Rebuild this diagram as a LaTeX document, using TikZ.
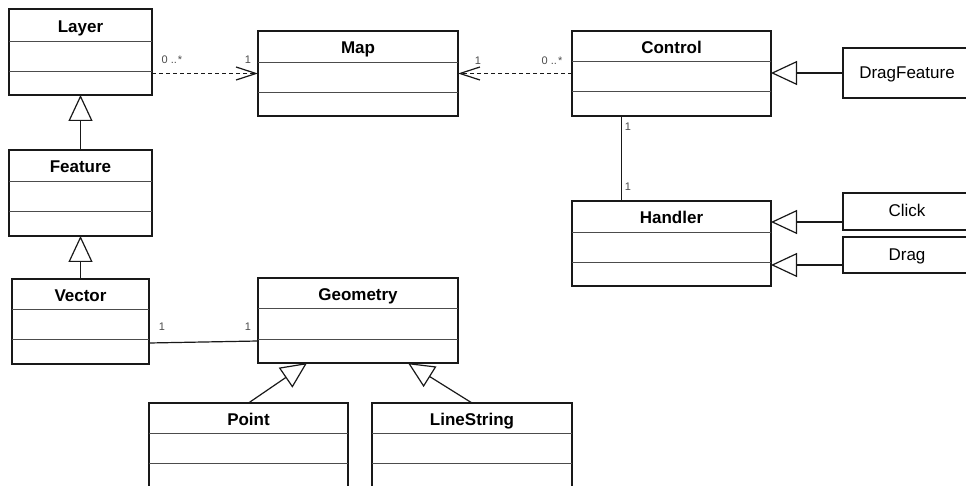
\documentclass[tikz,border=0pt]{standalone}
\usepackage{fontspec}
\setmainfont{Liberation Sans}
\usetikzlibrary{arrows.meta,calc}
\tikzset{
  boxline/.style={draw=black!90, line width=1.2pt},
  classbox/.style={boxline, rectangle, outer sep=0pt, inner sep=0pt, fill=white},
  divider/.style={draw=black!70, line width=0.9pt},
  titletext/.style={font=\bfseries\fontsize{17}{19}\selectfont, inner sep=0pt, text height=12.2pt, text depth=0pt},
  plaintext/.style={font=\fontsize{17}{19}\selectfont, inner sep=0pt, text height=12.2pt, text depth=0pt},
  multlabel/.style={font=\fontsize{11}{13}\selectfont, text=black!70, inner sep=0pt, text height=7.9pt, text depth=0pt},
  conn/.style={draw=black!90, line width=1.2pt},
  dep/.style={conn, dash pattern=on 4pt off 3pt, -{Straight Barb[length=20pt,width=13pt,line width=1.2pt]}},
  gen/.style={conn, -{Triangle[open,length=26pt,width=24pt,fill=white,line width=1.2pt]}}
}
% \umlcls{name}{x1}{y1}{x2}{y2}{d1}{d2}{title}
\newcommand{\umlcls}[8]{%
  \node[classbox, minimum width={(#4-#2)*1pt}, minimum height={(#5-#3)*1pt}, anchor=north west] (#1) at (#2,#3) {};
  \draw[divider] (#2,#6) -- (#4,#6);
  \draw[divider] (#2,#7) -- (#4,#7);
  \node[titletext] (#1-title) at ({(#2+#4)/2},{(#3+#6)/2+1}) {#8};
}
% \simplecls{name}{x1}{y1}{x2}{y2}{text}
\newcommand{\simplecls}[6]{%
  \node[classbox, minimum width={(#4-#2)*1pt}, minimum height={(#5-#3)*1pt}, anchor=north west] (#1) at (#2,#3) {};
  \node[plaintext] (#1-title) at ({(#2+#4)/2},{(#3+#5)/2-1}) {#6};
}
\begin{document}
\begin{tikzpicture}[x=1pt,y=-1pt]
\useasboundingbox (0,0) rectangle (966,486);
\fill[white] (0,0) rectangle (966,486);
\clip (0,0) rectangle (966,486);

\umlcls{Layer}{9}{9}{152}{95}{41}{71}{Layer}
\umlcls{Map}{258}{31}{458}{116}{62}{92}{Map}
\umlcls{Control}{572}{31}{771}{116}{61}{91}{Control}
\umlcls{Feature}{9}{150}{152}{236}{181}{211}{Feature}
\umlcls{Handler}{572}{201}{771}{286}{232}{262}{Handler}
\umlcls{Vector}{12}{279}{149}{364}{309}{339}{Vector}
\umlcls{Geometry}{258}{278}{458}{363}{308}{339}{Geometry}
\umlcls{Point}{149}{403}{348}{489}{433}{463}{Point}
\umlcls{LineString}{372}{403}{572}{489}{433}{463}{LineString}

\simplecls{DragFeature}{843}{48}{971}{98}{DragFeature}
\simplecls{Click}{843}{193}{971}{230}{Click}
\simplecls{Drag}{843}{237}{971}{273}{Drag}

% dependencies
\draw[dep] (Layer.east |- Map.west) -- (Map.west);
\draw[dep] (Control.west) -- (Map.east);

% generalizations
\draw[gen] (Feature.north) -- (Layer.south);
\draw[gen] (Vector.north) -- (Feature.south);
\draw[gen] (DragFeature.west) -- (DragFeature.west -| Control.east);
\draw[gen] ([yshift=-10.5pt]Click.west) -- ([yshift=-10.5pt]Click.west -| Handler.east);
\draw[gen] ([yshift=-10pt]Drag.west) -- ([yshift=-10pt]Drag.west -| Handler.east);
\draw[gen] (Point.north) -- ([xshift=49pt]Geometry.south west);
\draw[gen] (LineString.north) -- ([xshift=150pt]Geometry.south west);

% associations
\draw[conn] ($(Control.south west)!0.25!(Control.south east)$) -- ($(Handler.north west)!0.25!(Handler.north east)$);
\draw[conn] ([yshift=-21.5pt]Vector.east) -- ([yshift=-20.5pt]Geometry.west);

% multiplicities
\node[multlabel] (mLayer) at (172,60) {0 ..\kern1pt*};
\node[multlabel] (mMapL) at (248,60) {1};
\node[multlabel] (mMapR) at (478,61) {1};
\node[multlabel] (mControl) at (552,61) {0 ..\kern1pt*};
\node[multlabel] (mCtrlS) at (628,127) {1};
\node[multlabel] (mHandN) at (628,187) {1};
\node[multlabel] (mVector) at (162,327) {1};
\node[multlabel] (mGeom) at (248,327) {1};
\end{tikzpicture}
\end{document}
